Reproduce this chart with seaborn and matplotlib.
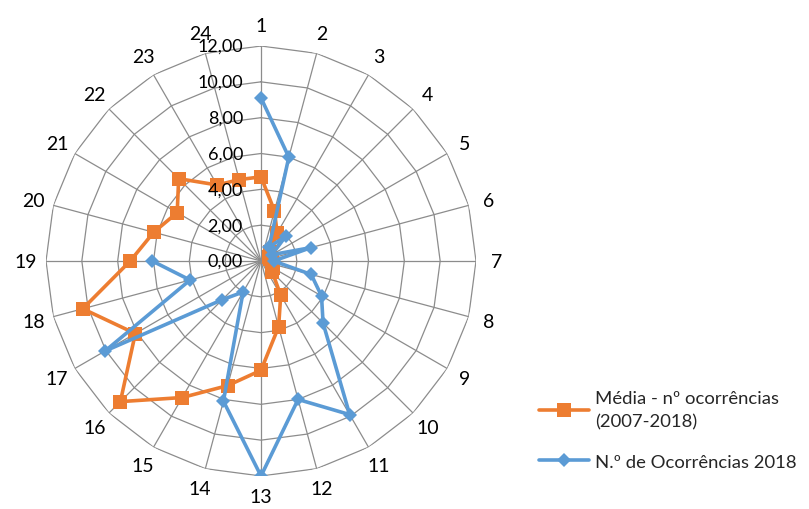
import numpy as np
import pandas as pd
import matplotlib
matplotlib.use("Agg")
import matplotlib.pyplot as plt
from matplotlib.lines import Line2D
from matplotlib.legend_handler import HandlerLine2D
import seaborn as sns

# Categories around the radar (1..24)
categories = [str(i) for i in range(1, 25)]

# Average number of occurrences 2007-2018
media = [4.7, 2.9, 1.8, 0.7, 0.5, 0.5, 0.6, 0.7, 0.8, 0.9, 2.2, 3.8,
         6.1, 7.2, 8.8, 11.1, 8.1, 10.3, 7.3, 6.2, 5.4, 6.5, 4.9, 4.7]

# Occurrences in 2018 (no records for 20-24)
ocorr_2018 = [9.1, 6.0, 0.9, 1.95, 0.7, 2.9, 0.7, 2.9, 3.9, 4.9, 9.9, 8.0,
              12.0, 8.1, 2.0, 3.05, 10.05, 4.1, 6.07,
              np.nan, np.nan, np.nan, np.nan, np.nan]

r_ticks = [0, 2, 4, 6, 8, 10, 12]
r_tick_labels = ["0,00", "2,00", "4,00", "6,00", "8,00", "10,00", "12,00"]

label_media = "Média - nº ocorrências\n(2007-2018)"
label_2018 = "N.º de Ocorrências 2018"

ORANGE = "#ED7D31"
BLUE = "#5B9BD5"
GRID = "#8C8C8C"

sns.set_style("white")
plt.rcParams["font.family"] = ["Lato", "DejaVu Sans"]

n = len(categories)
theta = np.arange(n) * 2 * np.pi / n

fig = plt.figure(figsize=(8.09, 5.10), dpi=100)
ax = fig.add_axes([46 / 809, 33 / 510, 430 / 809, 430 / 510], projection="polar")
ax.set_theta_zero_location("N")
ax.set_theta_direction(-1)
ax.set_ylim(0, 12)
ax.grid(False)
ax.spines["polar"].set_visible(False)
ax.set_xticks([])
ax.set_yticks([])
ax.patch.set_alpha(0)

# Polygonal grid rings and spokes
ring_theta = np.append(theta, 2 * np.pi)
for rv in r_ticks[1:]:
    ax.plot(ring_theta, [rv] * len(ring_theta), color=GRID, lw=0.9, zorder=1)
for t in theta:
    ax.plot([t, t], [0, 12], color=GRID, lw=0.9, zorder=1)

# Series data frames
df_media = pd.DataFrame({"theta": np.append(theta, 2 * np.pi),
                         "valor": media + [media[0]]})
df_2018 = pd.DataFrame({"theta": theta, "valor": ocorr_2018}).dropna()

sns.lineplot(data=df_media, x="theta", y="valor", ax=ax, sort=False,
             estimator=None, color=ORANGE, lw=2.6, marker="s",
             markersize=9.5, markeredgewidth=0, zorder=3)
sns.lineplot(data=df_2018, x="theta", y="valor", ax=ax, sort=False,
             estimator=None, color=BLUE, lw=2.6, marker="D",
             markersize=7.5, markeredgewidth=0, zorder=4)
ax.set_xlabel("")
ax.set_ylabel("")
ax.set_ylim(0, 12)

# Radial value labels along the top spoke
for rv, txt in zip(r_ticks, r_tick_labels):
    ax.annotate(txt, xy=(0, rv), xytext=(-13, 0), textcoords="offset points",
                ha="right", va="center", fontsize=13, color="#000000",
                zorder=5)

# Category labels around the outside
for t, c in zip(theta, categories):
    ax.text(t, 13.15, c, ha="center", va="center", fontsize=14,
            color="#000000")

handles = [
    Line2D([], [], color=ORANGE, lw=2.6, marker="s", markersize=9.5,
           markeredgewidth=0),
    Line2D([], [], color=BLUE, lw=2.6, marker="D", markersize=7.5,
           markeredgewidth=0),
]
# The two-line entry keeps its handle level with the first text line
leg = fig.legend(handles, [label_media, label_2018], loc="upper left",
                 bbox_to_anchor=(522 / 809, 1 - 374 / 510), frameon=False,
                 fontsize=13.3, handlelength=2.7, labelspacing=1.3,
                 handletextpad=0.37,
                 handler_map={handles[0]: HandlerLine2D(ypad=1.35)})
leg.get_texts()[0].set_linespacing(1.6)

fig.savefig("out.png", dpi=100)
